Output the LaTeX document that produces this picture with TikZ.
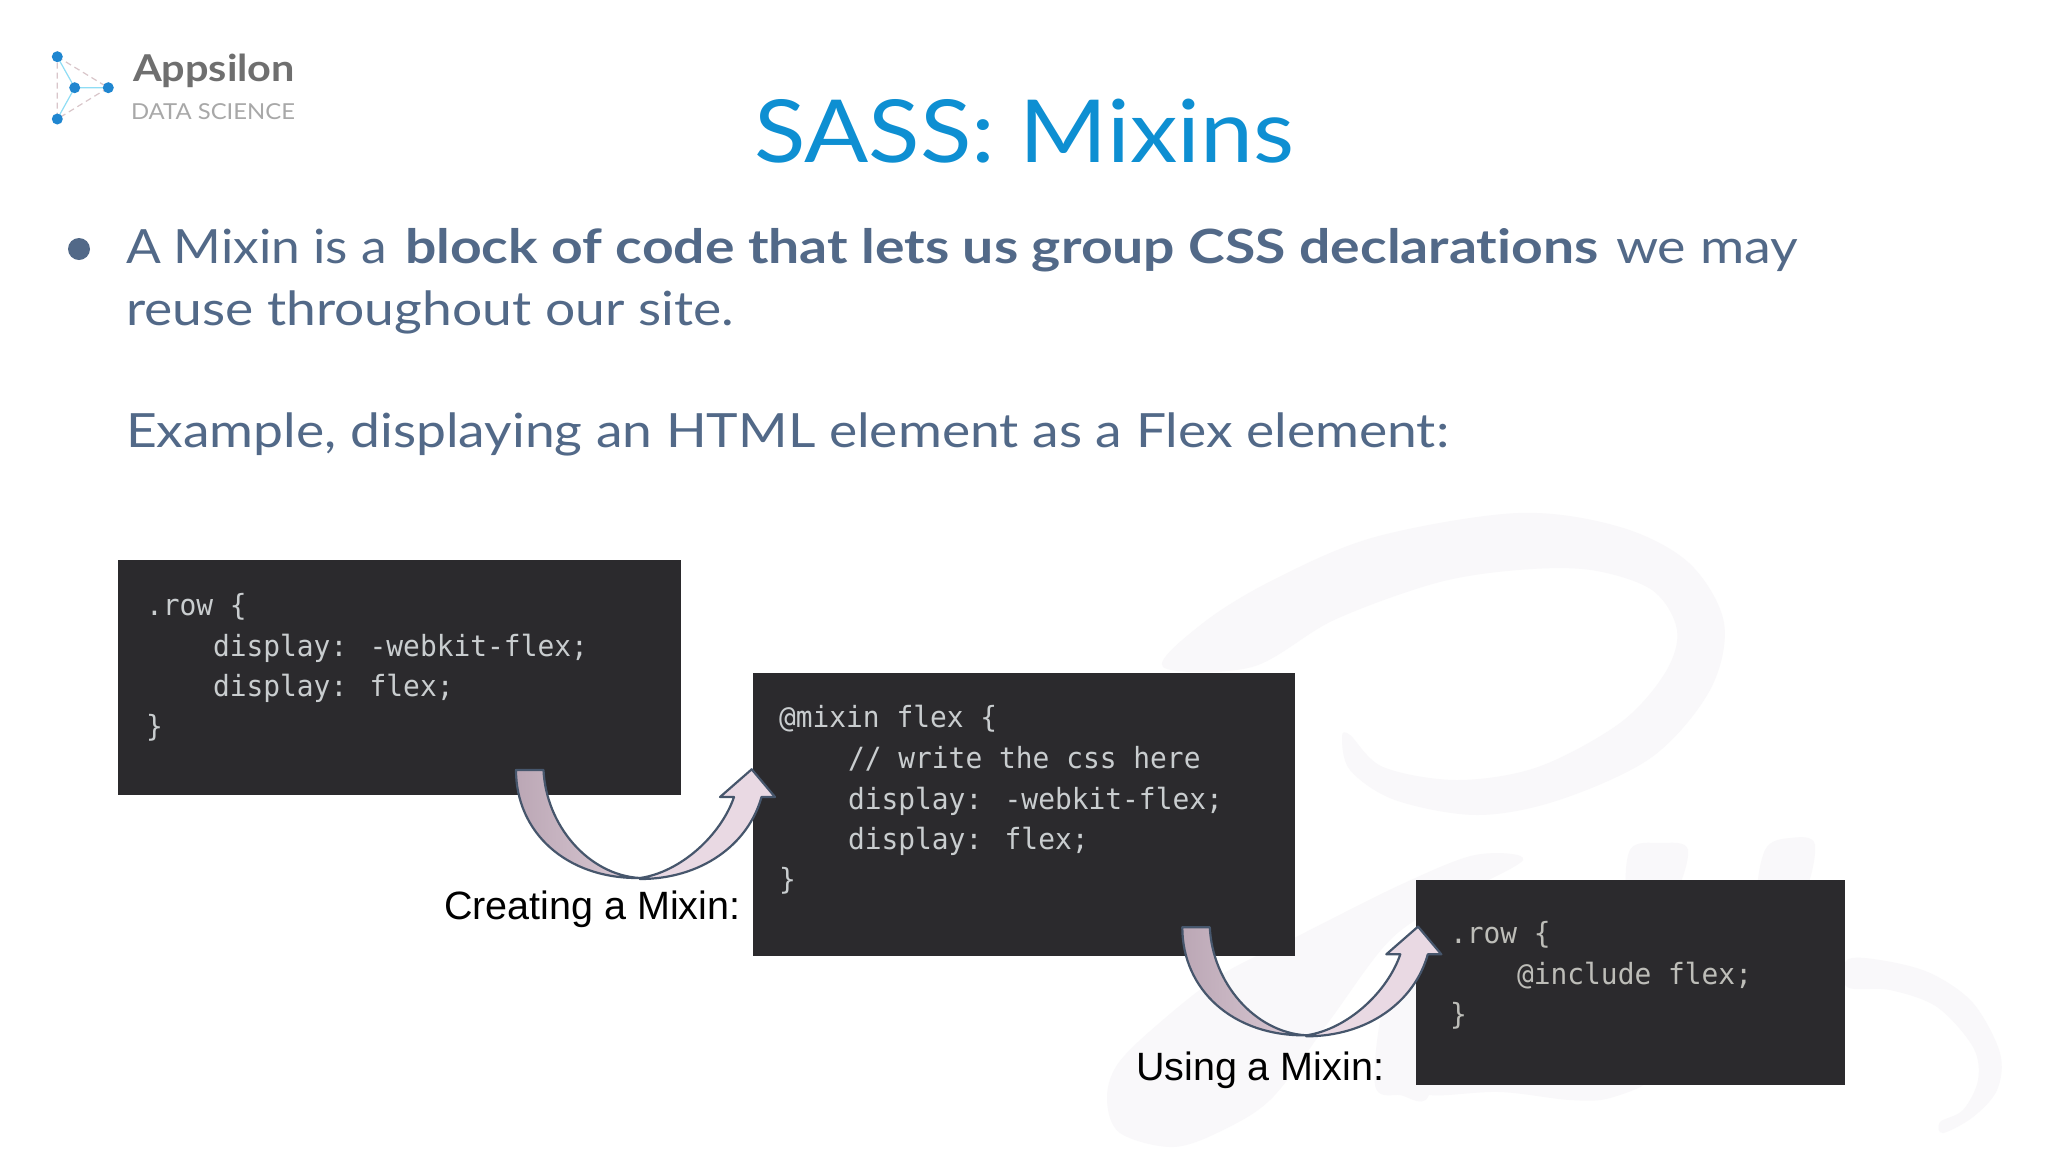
\documentclass[tikz,border=0pt]{standalone}
\usepackage{fontspec}
\setmainfont{Lato}
\newfontfamily\codefont[FakeStretch=0.955]{DejaVu Sans Mono}
\newfontfamily\labelfont{Liberation Sans}
\definecolor{titleblue}{HTML}{0E8FD2}
\definecolor{bodyblue}{HTML}{526988}
\definecolor{codebg}{HTML}{2B2A2D}
\definecolor{codetext}{HTML}{C9CDCF}
\definecolor{codedim}{HTML}{BDBDB8}
\definecolor{wmark}{HTML}{F9F8FA}
\definecolor{arrowline}{HTML}{46566C}
\definecolor{dotblue}{HTML}{1F86D0}
\definecolor{arrowdark}{HTML}{BBA7B5}
\definecolor{arrowmid}{HTML}{DCCBD6}
\definecolor{arrowlight}{HTML}{E9D9E3}
\definecolor{logopink}{HTML}{D9C6CA}
\definecolor{logocyan}{HTML}{8FDDF5}
\definecolor{logogray}{HTML}{6F6F6F}
\definecolor{logolight}{HTML}{A8A8A8}
% text of a given width (in px), height unchanged
\newcommand{\fitx}[2]{\resizebox{\dimexpr#1pt/2\relax}{\height}{#2}}
\newcommand{\fsz}[1]{\fontsize{#1}{#1}\selectfont}
\tikzset{
  txt/.style={anchor=base west,inner sep=0pt,outer sep=0pt},
  codebox/.style={fill=codebg,draw=none},
  code/.style={txt,font=\codefont\fsz{14.6},text=codetext},
  codeb/.style={code,text=codedim},
  bodytxt/.style={txt,font=\fsz{23.6},text=bodyblue},
  arrowedge/.style={draw=arrowline,line width=1.1pt,line join=round},
  logodot/.style={circle,fill=dotblue,minimum size=5.5pt,inner sep=0pt},
  logoline/.style={line width=0.6pt},
  wm/.style={fill=wmark},
  pics/curvearrow/.style={code={
    \path[arrowedge,left color=arrowdark,right color=arrowmid]
      (0,0) -- (27.5,0) .. controls (30,55) and (72,105) .. (124,108)
      .. controls (50,109) and (0,62) .. (0,0) -- cycle;
    \path[arrowedge,fill=arrowlight]
      (124,109) .. controls (185,109) and (232,75) .. (245.5,27)
      -- (259,27) -- (235.7,-0.7) -- (204,27) -- (218,27)
      .. controls (205,65) and (165,102) .. (124,108) -- cycle;
  }}
}
\begin{document}
\begin{tikzpicture}[x=0.5pt,y=-0.5pt]
\useasboundingbox (0,0) rectangle (2048,1152);
\fill[white] (0,0) rectangle (2048,1152);
% watermark
\path[wm] plot[smooth cycle,tension=0.55] coordinates {
 (1163,667) (1203,623) (1273,580) (1375,537) (1518,513) (1620,527) (1689,563) (1724,623)
 (1710,690) (1652,757) (1559,800) (1477,815) (1395,800) (1350,770) (1342,737)
 (1350,735) (1383,767) (1457,780) (1538,767) (1620,723) (1665,673) (1677,630) (1652,590)
 (1591,570) (1518,570) (1436,583) (1334,620) (1252,667)};
\path[wm] plot[smooth cycle,tension=0.55] coordinates {
 (1475,855) (1400,885) (1300,935) (1221,975) (1157,1025) (1117,1065) (1107,1100) (1120,1133)
 (1173,1147) (1223,1130) (1273,1097) (1330,1020) (1390,940) (1450,900) (1523,860)};
\path[wm] plot[smooth cycle,tension=0.55] coordinates {
 (1375,1085) (1385,1000) (1420,950) (1430,1090) (1400,1095)};
\path[wm] plot[smooth cycle,tension=0.6] coordinates {
 (1630,850) (1660,843) (1688,850) (1670,900) (1630,900)};
\path[wm] plot[smooth cycle,tension=0.6] coordinates {
 (1765,850) (1790,838) (1815,845) (1800,900) (1760,900)};
\path[wm] plot[smooth cycle,tension=0.55] coordinates {
 (1847,960) (1880,960) (1930,973) (1973,1003) (2000,1053) (1997,1090) (1973,1117) (1943,1133)
 (1940,1122) (1963,1110) (1978,1080) (1973,1047) (1937,1007) (1890,990) (1847,987)};
\path[wm] plot[smooth cycle,tension=0.6] coordinates {
 (1420,1080) (1500,1080) (1640,1080) (1610,1098) (1570,1100) (1500,1092) (1430,1095)};
% logo
\coordinate (ltop) at (57.3,56.7);
\coordinate (lbot) at (57.3,119);
\coordinate (lright) at (108.3,87.7);
\coordinate (lmid) at (74.7,87.7);
\draw[logoline,draw=logopink,densely dashed] (ltop) -- (lright) -- (lbot) -- cycle;
\draw[logoline,draw=logocyan] (ltop) -- (lmid) (lbot) -- (lmid) (lmid) -- (lright);
\node[logodot] (d1) at (ltop) {};
\node[logodot] (d2) at (lbot) {};
\node[logodot] (d3) at (lright) {};
\node[logodot] (d4) at (lmid) {};
\node[txt,text=logogray,font=\bfseries\fsz{18.5}] (appsilon) at (133,81.7) {\fitx{162}{Appsilon}};
\node[txt,text=logolight,font=\fsz{11}] (datasci) at (131,119) {\fitx{164}{DATA SCIENCE}};
% title
\node[txt,text=titleblue,font=\fsz{43.5}] (title) at (754,162.7) {\fitx{540}{SASS: Mixins}};
% body
\fill[bodyblue] (79,249) circle[radius=11];
\node[bodytxt] (b1) at (126,263.3) {\fitx{261}{A Mixin is a}};
\node[bodytxt,font=\bfseries\fsz{23.6}] (b2) at (405,263.3) {\fitx{1193}{block of code that lets us group CSS declarat\kern0pt ions}};
\node[bodytxt] (b3) at (1616,263.3) {\fitx{182}{we may}};
\node[bodytxt] (b4) at (126,325) {\fitx{608}{reuse throughout our sit\kern0pt e.}};
\node[bodytxt] (b5) at (126,447.3) {\fitx{1323}{Example, displaying an HTML element as a Flex element:}};
% code boxes
\fill[codebox] (117.5,560) rectangle (681,795);
\node[code] (c11) at (146,615) {.row \{};
\node[code] (c12) at (213,656) {display: -webkit-flex;};
\node[code] (c13) at (213,696.7) {display: flex;};
\node[code] (c14) at (146,736) {\}};
\fill[codebox] (753,673) rectangle (1295,956);
\node[code] (c21) at (779,727) {@mixin flex \{};
\node[code] (c22) at (848,768) {// write the css here};
\node[code] (c23) at (848,809) {display: -webkit-flex;};
\node[code] (c24) at (848,849) {display: flex;};
\node[code] (c25) at (779,889) {\}};
\fill[codebox] (1416,880) rectangle (1845,1085);
\node[codeb] (c31) at (1450,943) {.row \{};
\node[codeb] (c32) at (1517,984) {@include flex;};
\node[codeb] (c33) at (1450,1024) {\}};
% arrows
\pic at (516,770) {curvearrow};
\pic at (1182.3,927.3) {curvearrow};
% labels
\node[txt,font=\labelfont\fsz{19.75},text=black] (l1) at (444,919) {Creating a Mixin:};
\node[txt,font=\labelfont\fsz{19.75},text=black] (l2) at (1136,1080) {Using a Mixin:};
\end{tikzpicture}
\end{document}
